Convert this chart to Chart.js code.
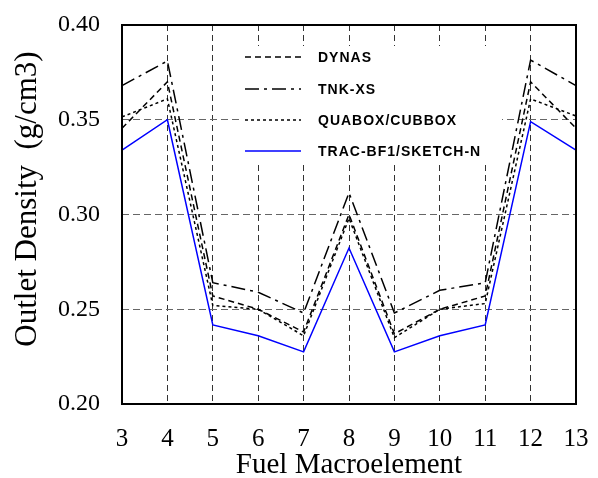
<!DOCTYPE html>
<html>
<head>
<meta charset="utf-8">
<script src="https://cdn.jsdelivr.net/npm/chart.js@4/dist/chart.umd.min.js"></script>
<style>
    html, body { margin: 0; padding: 0; background: #fff; }
    #wrap { width: 598px; height: 478px; }
</style>
</head>
<body>
<div id="wrap"><canvas id="densityChart" width="598" height="478"></canvas></div>
<script>
// chart data
const macroElements = ['3', '4', '5', '6', '7', '8', '9', '10', '11', '12', '13'];
const dynas = [0.3455, 0.370, 0.257, 0.250, 0.238, 0.300, 0.237, 0.250, 0.257, 0.370, 0.3455];
const tnkXs = [0.368, 0.381, 0.264, 0.259, 0.248, 0.3115, 0.248, 0.260, 0.264, 0.3815, 0.368];
const quabox = [0.3515, 0.361, 0.252, 0.250, 0.236, 0.298, 0.235, 0.250, 0.253, 0.361, 0.352];
const tracBf1 = [0.334, 0.350, 0.2417, 0.236, 0.2275, 0.2823, 0.2275, 0.236, 0.2417, 0.349, 0.334];
const seriesNames = ['DYNAS', 'TNK-XS', 'QUABOX/CUBBOX', 'TRAC-BF1/SKETCH-N'];

const serif = '"Liberation Serif", "Times New Roman", serif';

function makeSet(label, data, color, dash) {
    return {
        label: label,
        data: data,
        borderColor: color,
        borderWidth: 1.5,
        borderDash: dash,
        pointRadius: 0,
        tension: 0,
        fill: false
    };
}

// legend drawn inside the plot, on a white patch
const insideLegend = {
    id: 'insideLegend',
    afterDraw(chart) {
        const ctx = chart.ctx;
        ctx.save();
        ctx.fillStyle = '#fff';
        ctx.fillRect(240, 46, 262, 118);
        const rows = [57, 89, 120, 151];
        chart.data.datasets.forEach((ds, i) => {
            const y = rows[i];
            ctx.beginPath();
            ctx.setLineDash(ds.borderDash || []);
            ctx.strokeStyle = ds.borderColor;
            ctx.lineWidth = 1.5;
            ctx.moveTo(245, y);
            ctx.lineTo(301, y);
            ctx.stroke();
            ctx.setLineDash([]);
            ctx.fillStyle = '#000';
            ctx.font = 'bold 14px "Liberation Sans", Arial, sans-serif';
            ctx.letterSpacing = '1px';
            ctx.textBaseline = 'middle';
            ctx.fillText(ds.label, 318, y + 1);
        });
        ctx.restore();
    }
};

// full frame round the plot area
const frame = {
    id: 'frame',
    afterDatasetsDraw(chart) {
        const a = chart.chartArea;
        const ctx = chart.ctx;
        ctx.save();
        ctx.strokeStyle = '#000';
        ctx.lineWidth = 2;
        ctx.strokeRect(a.left, a.top, a.right - a.left, a.bottom - a.top);
        ctx.restore();
    }
};

new Chart(document.getElementById('densityChart').getContext('2d'), {
    type: 'line',
    data: {
        labels: macroElements,
        datasets: [
            makeSet(seriesNames[0], dynas, '#000', [6, 4]),
            makeSet(seriesNames[1], tnkXs, '#000', [14, 5, 3, 5]),
            makeSet(seriesNames[2], quabox, '#000', [3, 3]),
            makeSet(seriesNames[3], tracBf1, '#0000ff', [])
        ]
    },
    options: {
        responsive: false,
        animation: false,
        layout: { padding: { left: 0, top: 25, right: 22, bottom: 0 } },
        plugins: {
            legend: { display: false },
            tooltip: { enabled: false }
        },
        scales: {
            x: {
                offset: false,
                afterFit(scale) {
                    scale.height = 74;
                    scale.paddingLeft = 0;
                    scale.paddingRight = 0;
                },
                border: { display: false, dash: [6, 4] },
                grid: { color: '#333', lineWidth: 1, drawTicks: false },
                ticks: { color: '#000', padding: 20, font: { family: serif, size: 25 } },
                title: {
                    display: true,
                    text: 'Fuel Macroelement',
                    color: '#000',
                    padding: { top: -5, bottom: -5 },
                    font: { family: serif, size: 29 }
                }
            },
            y: {
                min: 0.2,
                max: 0.4,
                afterFit(scale) {
                    scale.width = 122;
                    scale.paddingTop = 0;
                    scale.paddingBottom = 0;
                },
                border: { display: false, dash: [7, 4] },
                grid: { color: '#666', lineWidth: 1, drawTicks: false },
                ticks: {
                    stepSize: 0.05,
                    color: '#000',
                    padding: 22,
                    font: { family: serif, size: 24 },
                    callback: v => v.toFixed(2)
                },
                title: {
                    display: true,
                    text: '    Outlet Density  (g/cm3)',
                    color: '#000',
                    padding: { top: 9, bottom: 0 },
                    font: { family: serif, size: 31 }
                }
            }
        }
    },
    plugins: [frame, insideLegend]
});
</script>
</body>
</html>
